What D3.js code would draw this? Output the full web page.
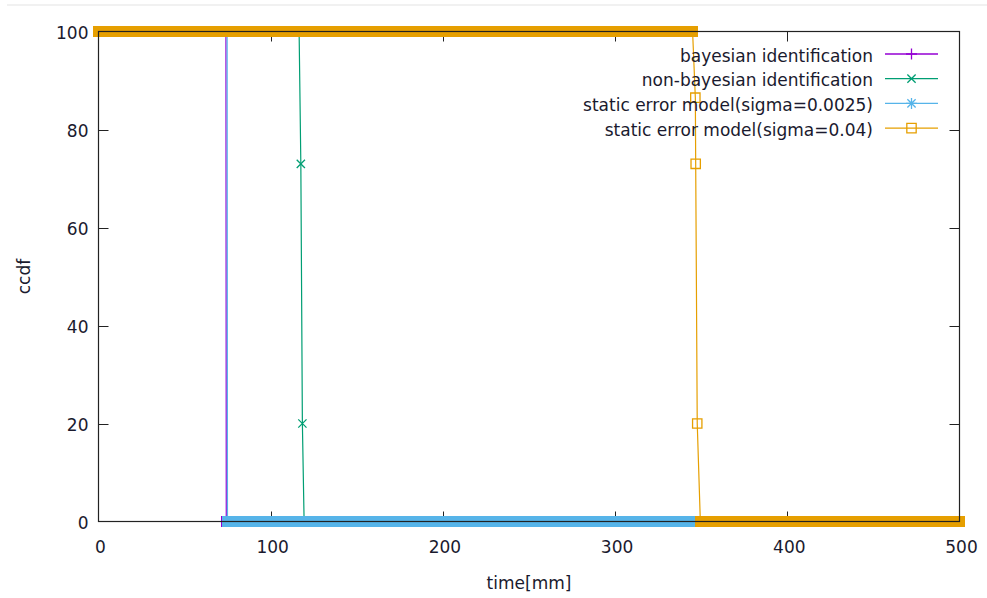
<!DOCTYPE html>
<html>
<head>
<meta charset="utf-8">
<script src="https://cdn.jsdelivr.net/npm/d3@7"></script>
<style>
  html, body { margin: 0; padding: 0; background: #fff; }
  svg { display: block; }
  text { font-family: "DejaVu Sans", sans-serif; fill: #1a1a2e; }
</style>
</head>
<body>
<script>
// ---- data ----
const bayesTime       = [0, 74.0, 74.2, 500];
const bayesCcdf       = [100, 100, 0, 0];
const nonBayesTime    = [0, 116.5, 117.5, 118.4, 119.4, 500];
const nonBayesCcdf    = [100, 100, 73, 20, 0, 0];
const static0025Time  = [0, 74.7, 74.9, 500];
const static0025Ccdf  = [100, 100, 0, 0];
const static004Time   = [0, 345.0, 346.6, 346.8, 347.7, 349.5, 500];
const static004Ccdf   = [100, 100, 86.5, 73, 20, 0, 0];

const seriesNames  = ["bayesian identification", "non-bayesian identification",
                      "static error model(sigma=0.0025)", "static error model(sigma=0.04)"];
const seriesColors = ["#9400d3", "#009e73", "#56b4e9", "#e69f00"];
const seriesMarks  = ["plus", "cross", "star", "square"];

const xTicks = [0, 100, 200, 300, 400, 500];
const yTicks = [0, 20, 40, 60, 80, 100];
const xTitle = "time[mm]";
const yTitle = "ccdf";

// ---- layout ----
const W = 987, H = 598;
const L = 98.5, R = 959.5, T = 31.5, B = 521.5;

const svg = d3.select("body").append("svg").attr("width", W).attr("height", H);

// faint top separator line of the screenshot
svg.append("line").attr("x1", 7).attr("x2", W).attr("y1", 5).attr("y2", 5)
  .attr("stroke", "#ececec").attr("stroke-width", 1.5);

const x = d3.scaleLinear().domain([0, 500]).range([L, R]);
const y = d3.scaleLinear().domain([0, 100]).range([B, T]);

const series = [
  { t: bayesTime, v: bayesCcdf },
  { t: nonBayesTime, v: nonBayesCcdf },
  { t: static0025Time, v: static0025Ccdf },
  { t: static004Time, v: static004Ccdf }
].map((s, i) => ({
  name: seriesNames[i], color: seriesColors[i], mark: seriesMarks[i],
  pts: s.t.map((t, j) => ({ t, v: s.v[j] }))
}));

// ---- ticks (inward, mirrored, drawn behind data) ----
const tickLen = 10;
const tickG = svg.append("g").attr("stroke", "#222").attr("stroke-width", 1);
xTicks.forEach(v => {
  if (v === 0 || v === 500) return;
  const px = Math.round(x(v)) + 0.5;
  tickG.append("line").attr("x1", px).attr("x2", px).attr("y1", B).attr("y2", B - tickLen);
  tickG.append("line").attr("x1", px).attr("x2", px).attr("y1", T).attr("y2", T + tickLen);
});
yTicks.forEach(v => {
  if (v === 0 || v === 100) return;
  const py = Math.round(y(v)) + 0.5;
  tickG.append("line").attr("x1", L).attr("x2", L + tickLen).attr("y1", py).attr("y2", py);
  tickG.append("line").attr("x1", R).attr("x2", R - tickLen).attr("y1", py).attr("y2", py);
});

// marker path generator
function markerPath(type, cx, cy, r) {
  const p = d3.path();
  if (type === "plus" || type === "star") {
    p.moveTo(cx - r, cy); p.lineTo(cx + r, cy);
    p.moveTo(cx, cy - r); p.lineTo(cx, cy + r);
  }
  if (type === "cross" || type === "star") {
    const d = r * 0.75;
    p.moveTo(cx - d, cy - d); p.lineTo(cx + d, cy + d);
    p.moveTo(cx - d, cy + d); p.lineTo(cx + d, cy - d);
  }
  if (type === "square") {
    p.rect(cx - r * 0.85, cy - r * 0.85, r * 1.7, r * 1.7);
  }
  return p.toString();
}

const line = d3.line().x(d => x(d.t)).y(d => y(d.v));
const plot = svg.append("g");

series.forEach(s => {
  const g = plot.append("g");
  // dense markers on flat stretches render as a thick band
  for (let j = 0; j < s.pts.length - 1; j++) {
    const a = s.pts[j], b = s.pts[j + 1];
    if (a.v === b.v && b.t - a.t > 5) {
      g.append("line")
        .attr("x1", x(a.t)).attr("x2", x(b.t))
        .attr("y1", y(a.v)).attr("y2", y(b.v))
        .attr("stroke", s.color).attr("stroke-width", 11)
        .attr("stroke-linecap", "square")
        .attr("shape-rendering", "crispEdges");
    }
  }
  g.append("path").datum(s.pts).attr("d", line)
    .attr("fill", "none").attr("stroke", s.color).attr("stroke-width", 1.2);
  g.selectAll("path.m").data(s.pts).join("path").attr("class", "m")
    .attr("d", d => markerPath(s.mark, x(d.t), y(d.v), 5.5))
    .attr("fill", "none").attr("stroke", s.color).attr("stroke-width", 1.3);
});

// ---- border on top ----
svg.append("rect").attr("x", L).attr("y", T).attr("width", R - L).attr("height", B - T)
  .attr("fill", "none").attr("stroke", "#222").attr("stroke-width", 1.2);

// ---- tick labels ----
const fs = 17;
svg.append("g").selectAll("text").data(yTicks).join("text")
  .attr("x", L - 10).attr("y", d => y(d) + 7)
  .attr("text-anchor", "end").attr("font-size", fs).text(d => d);
svg.append("g").selectAll("text").data(xTicks).join("text")
  .attr("x", d => x(d) + 2).attr("y", 553)
  .attr("text-anchor", "middle").attr("font-size", fs).text(d => d);

// axis titles
svg.append("text").attr("x", (L + R) / 2).attr("y", 589)
  .attr("text-anchor", "middle").attr("font-size", fs).text(xTitle);
svg.append("text").attr("transform", `translate(30,${(T + B) / 2}) rotate(-90)`)
  .attr("text-anchor", "middle").attr("font-size", fs).text(yTitle);

// ---- legend ----
const legY0 = 54, legDy = 24.7, legTextX = 873, legL1 = 885, legL2 = 938;
series.forEach((s, i) => {
  const ly = legY0 + i * legDy;
  svg.append("text").attr("x", legTextX).attr("y", ly + 7.5)
    .attr("text-anchor", "end").attr("font-size", fs).text(s.name);
  svg.append("line").attr("x1", legL1).attr("x2", legL2).attr("y1", ly).attr("y2", ly)
    .attr("stroke", s.color).attr("stroke-width", 1.3);
  svg.append("path").attr("d", markerPath(s.mark, (legL1 + legL2) / 2, ly, 5.5))
    .attr("fill", "none").attr("stroke", s.color).attr("stroke-width", 1.3);
});
</script>
</body>
</html>
